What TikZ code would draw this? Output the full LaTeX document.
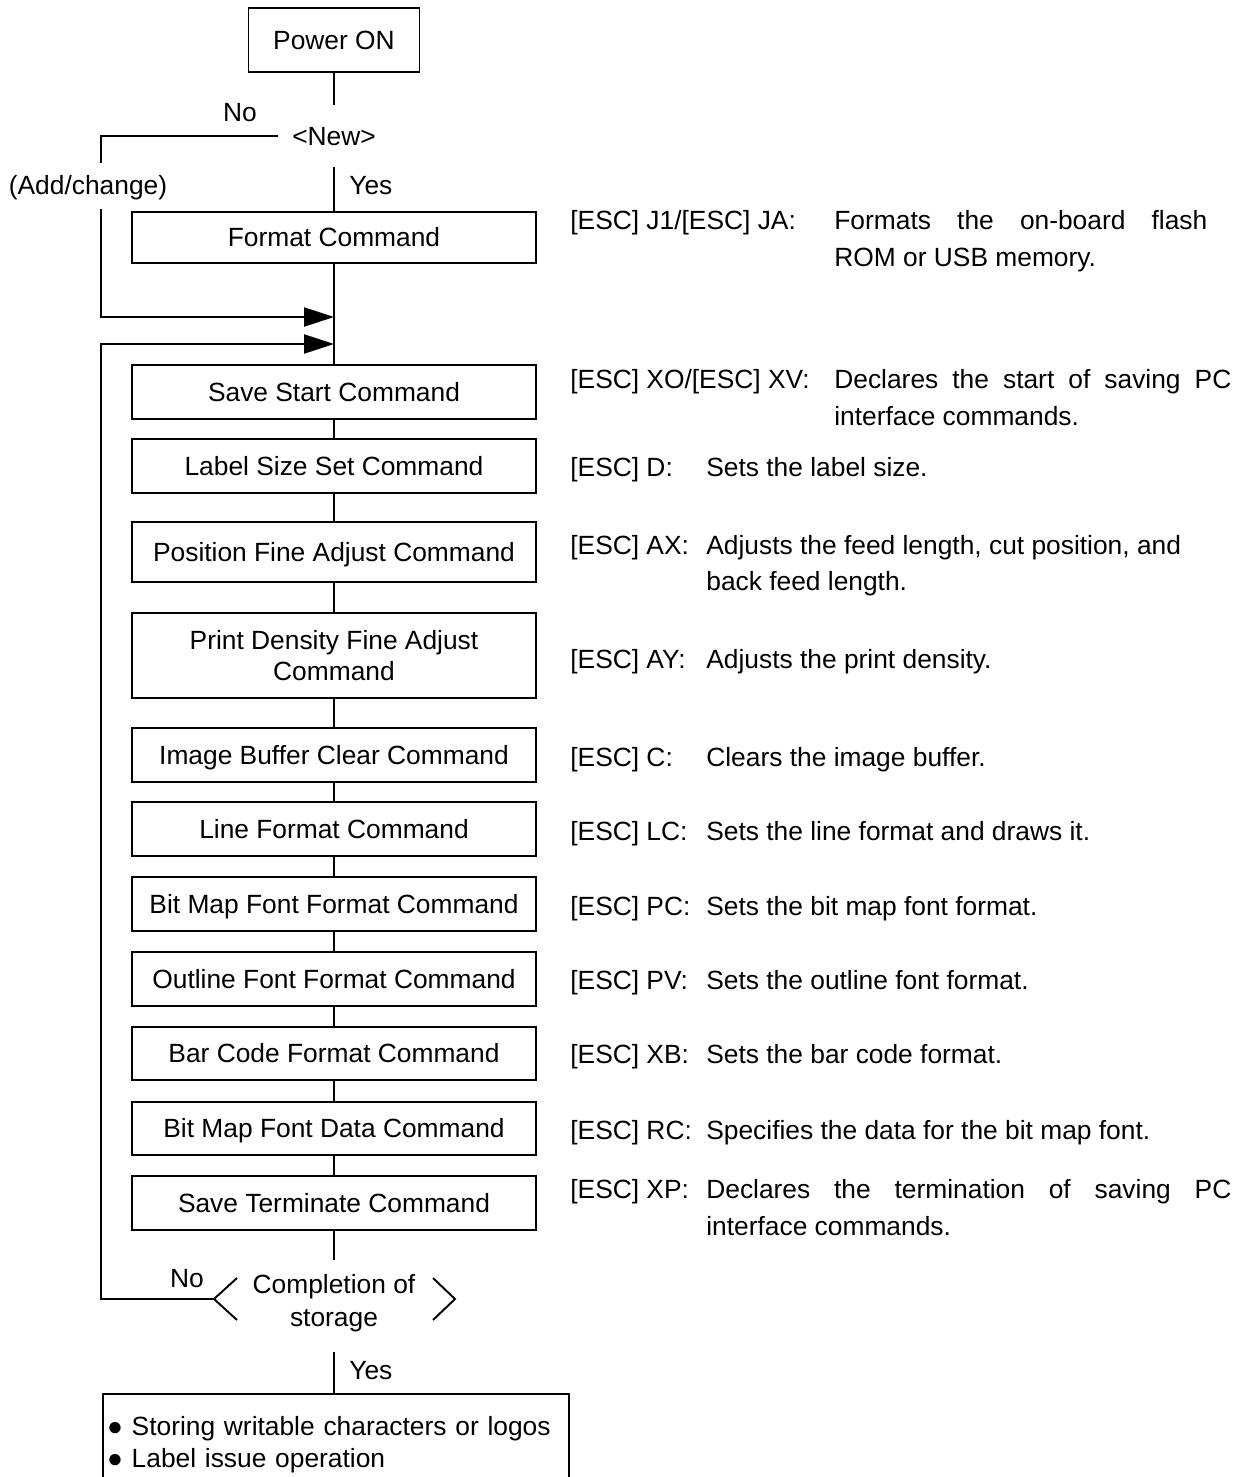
\documentclass[tikz,border=0pt]{standalone}
\usepackage{fontspec}
\setmainfont{Liberation Sans}
\usetikzlibrary{arrows.meta}
\newlength\pu
\setlength\pu{0.02cm}
\newcommand\fs{\fontsize{15}{17.6}\selectfont}
\newcommand\fsd{\fontsize{15}{18.7}\selectfont}
\newcommand\fsb{\fontsize{15}{18.1}\selectfont}
\begin{document}
\begin{tikzpicture}[x=0.02cm, y=-0.02cm,
  ln/.style={line width=1.1pt},
  bx/.style={draw, line width=1.1pt, minimum width=404\pu, inner sep=0pt, align=center, font=\fs},
  one/.style={text height=10.74pt, text depth=0pt},
  box/.style={bx, one},
  txt/.style={inner sep=0pt, font=\fs, one},
  lbl/.style={inner sep=0pt, font=\fs, anchor=base west},
  arr/.style={ln, -{Triangle[length=17pt, width=10.8pt]}}
]
\useasboundingbox (0,0) rectangle (1250,1477);

% main column
\node[box, minimum width=171\pu, minimum height=64\pu] (pon) at (334,40) {Power ON};
\node[txt, inner xsep=14\pu, inner ysep=21\pu] (new) at (334,136) {<New>};
\node[txt] (no1) at (240,112) {No};
\node[txt, anchor=west] (yes1) at (349,185) {Yes};
\node[txt] (addc) at (88,185) {(Add/change)};

\node[box, minimum height=51\pu] (fmt) at (334,237.5) {Format Command};
\node[box, minimum height=54\pu] (ss) at (334,392) {Save Start Command};
\node[box, minimum height=54\pu] (ls) at (334,466) {Label Size Set Command};
\node[box, minimum height=60\pu] (pf) at (334,552) {Position Fine Adjust Command};
\node[bx, minimum height=85\pu] (pd) at (334,655.5) {Print Density Fine Adjust\\Command};
\node[box, minimum height=54\pu] (ib) at (334,755) {Image Buffer Clear Command};
\node[box, minimum height=54\pu] (lf) at (334,829) {Line Format Command};
\node[box, minimum height=54\pu] (bf) at (334,904) {Bit Map Font Format Command};
\node[box, minimum height=54\pu] (of) at (334,979) {Outline Font Format Command};
\node[box, minimum height=53\pu] (bc) at (334,1053.5) {Bar Code Format Command};
\node[box, minimum height=53\pu] (bd) at (334,1128.5) {Bit Map Font Data Command};
\node[box, minimum height=54\pu] (st) at (334,1203) {Save Terminate Command};

% decision
\node[inner sep=0pt, align=center, font=\fsd] (dec) at (334,1303) {Completion of\\storage};
\node[txt] (no2) at (187,1278) {No};
\coordinate (lt) at (214,1299);
\coordinate (rt) at (455,1299);
\draw[ln] ([shift={(23,-21)}]lt) -- (lt) -- ([shift={(23,21)}]lt);
\draw[ln] ([shift={(-22,-21)}]rt) -- (rt) -- ([shift={(-22,21)}]rt);
\coordinate (din) at (334,1260);
\coordinate (dout) at (334,1352);
\node[txt, anchor=west] (yes2) at (349,1370) {Yes};

% final box (open at the bottom)
\node[inner xsep=4\pu, inner ysep=0pt, minimum width=466\pu, minimum height=101.4\pu,
      text width=458\pu, align=left, font=\fsb] (fin) at (336,1444.7)
      {● Storing writable characters or logos\\● Label issue operation};
\draw[ln] (fin.south west) -- (fin.north west) -- (fin.north east) -- (fin.south east);

% connectors
\draw[ln] (pon) -- (new);
\draw[ln] (new) -- (fmt);
\draw[ln] (fmt) -- (ss);
\draw[ln] (ss) -- (ls);
\draw[ln] (ls) -- (pf);
\draw[ln] (pf) -- (pd);
\draw[ln] (pd) -- (ib);
\draw[ln] (ib) -- (lf);
\draw[ln] (lf) -- (bf);
\draw[ln] (bf) -- (of);
\draw[ln] (of) -- (bc);
\draw[ln] (bc) -- (bd);
\draw[ln] (bd) -- (st);
\draw[ln] (st) -- (din);
\draw[ln] (dout) -- (dout |- fin.north);

\coordinate (a1) at (101,163);
\coordinate (a2) at (101,209);
\coordinate (j1) at (334,317);
\coordinate (j2) at (334,344);
\coordinate (c1) at (101,1299);
\draw[ln] (new.west) -| (a1);
\draw[arr] (a2) |- (j1);
\draw[arr] (lt) -- (c1) |- (j2);

% right-hand descriptions
\node[lbl] (l1) at (570,229.5) {[ESC] J1/[ESC] JA:};
\node[lbl] (d1a) at (834,229.5) {\makebox[373\pu][s]{Formats the on-board flash}};
\node[lbl] (d1b) at (834,266.5) {ROM or USB memory.};

\node[lbl] (l2) at (570,388.5) {[ESC] XO/[ESC] XV:};
\node[lbl] (d2a) at (834,388.5) {\makebox[397\pu][s]{Declares the start of saving PC}};
\node[lbl] (d2b) at (834,425.5) {interface commands.};

\node[lbl] (l3) at (570,476.5) {[ESC] D:};
\node[lbl] (d3) at (706,476.5) {Sets the label size.};

\node[lbl] (l4) at (570,554.5) {[ESC] AX:};
\node[lbl] (d4a) at (706,554.5) {Adjusts the feed length, cut position, and};
\node[lbl] (d4b) at (706,590.5) {back feed length.};

\node[lbl] (l5) at (570,668.5) {[ESC] AY:};
\node[lbl] (d5) at (706,668.5) {Adjusts the print density.};

\node[lbl] (l6) at (570,766.5) {[ESC] C:};
\node[lbl] (d6) at (706,766.5) {Clears the image buffer.};

\node[lbl] (l7) at (570,840.5) {[ESC] LC:};
\node[lbl] (d7) at (706,840.5) {Sets the line format and draws it.};

\node[lbl] (l8) at (570,915.5) {[ESC] PC:};
\node[lbl] (d8) at (706,915.5) {Sets the bit map font format.};

\node[lbl] (l9) at (570,989.5) {[ESC] PV:};
\node[lbl] (d9) at (706,989.5) {Sets the outline font format.};

\node[lbl] (l10) at (570,1063.5) {[ESC] XB:};
\node[lbl] (d10) at (706,1063.5) {Sets the bar code format.};

\node[lbl] (l11) at (570,1139.5) {[ESC] RC:};
\node[lbl] (d11) at (706,1139.5) {Specifies the data for the bit map font.};

\node[lbl] (l12) at (570,1198.5) {[ESC] XP:};
\node[lbl] (d12a) at (706,1198.5) {\makebox[525\pu][s]{Declares the termination of saving PC}};
\node[lbl] (d12b) at (706,1235.5) {interface commands.};
\end{tikzpicture}
\end{document}
